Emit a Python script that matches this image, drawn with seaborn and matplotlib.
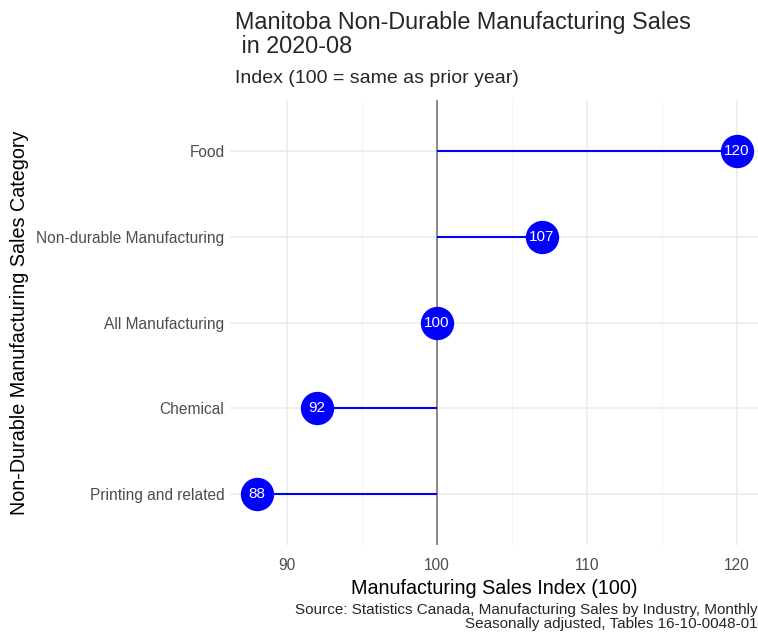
import pandas as pd
import seaborn as sns
import matplotlib.pyplot as plt

# Chart data
categories = ['Food', 'Non-durable Manufacturing', 'All Manufacturing', 'Chemical', 'Printing and related']
index_values = [120, 107, 100, 92, 88]
x_ticks = [90, 100, 110, 120]

df = pd.DataFrame({'category': categories, 'index': index_values})

sns.set_theme(style='whitegrid')
plt.rcParams['font.family'] = ['Liberation Sans', 'DejaVu Sans']

fig = plt.figure(figsize=(7.58, 6.35), dpi=100)
ax = fig.add_axes([0.3034, 0.141, 0.6966, 0.702])

# Reference line at 100
ax.axvline(100, color='#808080', lw=1.3, zorder=1)

# Lollipop sticks
ax.hlines(y=range(len(df)), xmin=100, xmax=df['index'], color='blue', lw=1.5, zorder=2)

# Lollipop heads
sns.stripplot(data=df, x='index', y='category', order=categories, jitter=False,
              color='blue', size=24, linewidth=0, ax=ax, zorder=3)

for i, v in enumerate(df['index']):
    ax.text(v, i, str(v), color='white', ha='center', va='center', fontsize=11, zorder=4)

ax.set_xlim(86.2, 121.4)
ax.set_ylim(len(df) - 0.4, -0.6)
ax.set_xticks(x_ticks)
ax.set_xticks([95, 105, 115], minor=True)
ax.grid(True, which='major', color='#ebebeb', lw=1.1)
ax.grid(True, which='minor', axis='x', color='#f4f4f4', lw=0.6)
ax.set_axisbelow(True)
for s in ax.spines.values():
    s.set_visible(False)
ax.set_facecolor('white')
ax.tick_params(axis='both', which='both', length=0, labelsize=11.2, labelcolor='#4d4d4d')
ax.tick_params(axis='x', pad=9)
ax.tick_params(axis='y', pad=4)

ax.set_xlabel('Manufacturing Sales Index (100)', fontsize=14.2, color='black', labelpad=4)
ax.set_ylabel('Non-Durable Manufacturing Sales Category', fontsize=14.2, color='black')
ax.yaxis.set_label_coords(-0.38, 0.5)

fig.text(0.31, 0.982, 'Manitoba Non-Durable Manufacturing Sales\n in 2020-08', fontsize=16.8,
         ha='left', va='top', linespacing=1.05)
fig.text(0.31, 0.877, 'Index (100 = same as prior year)', fontsize=14, ha='left', va='center')
fig.text(1.0, 0.006, 'Source: Statistics Canada, Manufacturing Sales by Industry, Monthly\n'
         'Seasonally adjusted, Tables 16-10-0048-01', fontsize=11, ha='right', va='bottom',
         multialignment='right', linespacing=1.05)

plt.savefig('out.png', dpi=100)
